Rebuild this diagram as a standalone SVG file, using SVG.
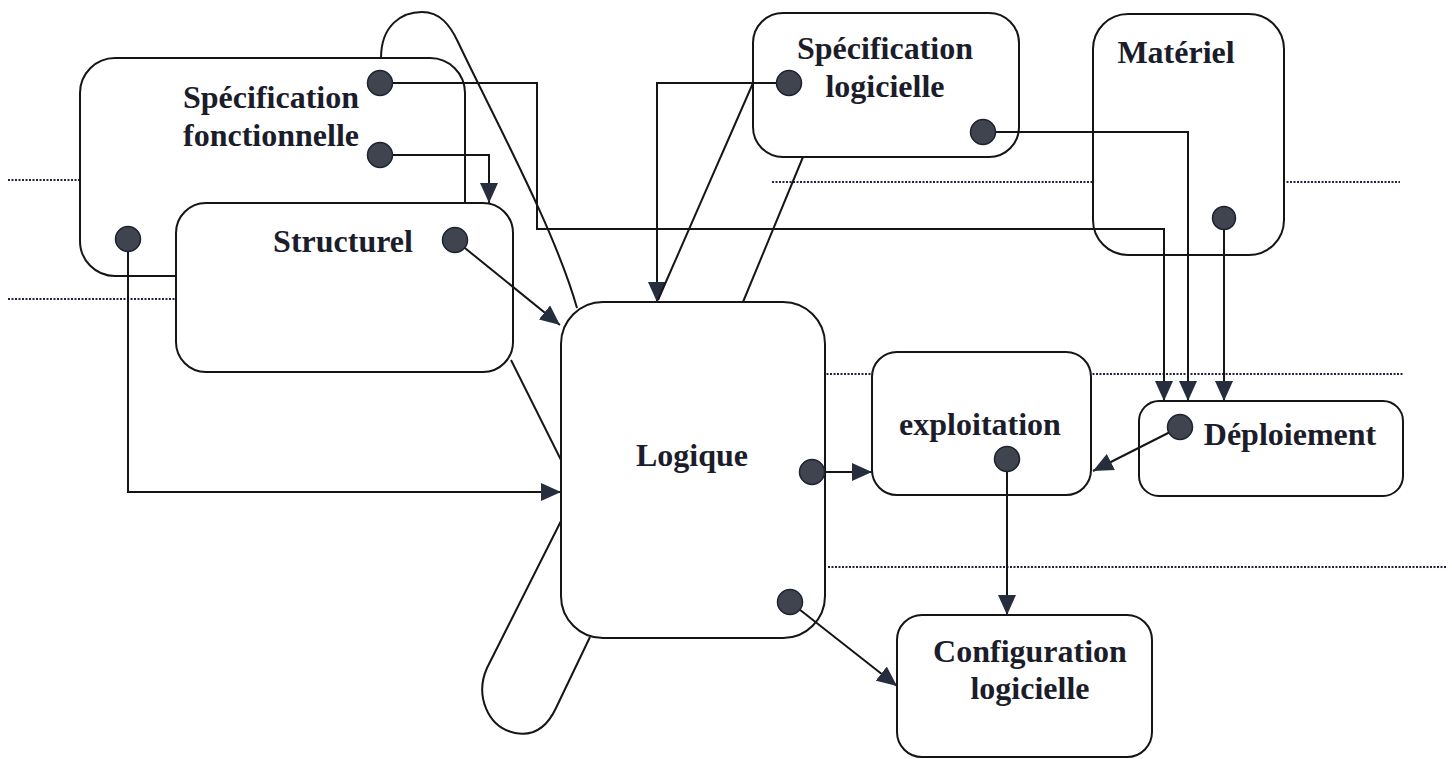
<svg xmlns="http://www.w3.org/2000/svg" width="1452" height="759" viewBox="0 0 1452 759">
  <style>
    .box { fill: #ffffff; stroke: #151515; stroke-width: 2; }
    .lbl { font-family: "Liberation Serif", "Times New Roman", serif; font-weight: bold; font-size: 32px; fill: #1b1d2b; text-anchor: middle; }
    .wire { fill: none; stroke: #151515; stroke-width: 2; }
    .arrow { marker-end: url(#head); }
    .sep { fill: none; stroke: #1e2440; stroke-width: 2; stroke-dasharray: 2 1.5; }
    .port { fill: #40444f; stroke: #1d2230; stroke-width: 1.5; }
  </style>
  <defs>
    <marker id="head" viewBox="0 0 20 18" refX="20" refY="9" markerWidth="20" markerHeight="18" markerUnits="userSpaceOnUse" orient="auto">
      <path d="M0,0 L20,9 L0,18 Z" fill="#262d3d"/>
    </marker>
  </defs>

  <rect width="1452" height="759" fill="#ffffff"/>

  <!-- dotted level separators -->
  <g id="separators">
    <line class="sep" x1="8" y1="180" x2="442" y2="180"/>
    <line class="sep" x1="772" y1="182" x2="1400" y2="182"/>
    <line class="sep" x1="8" y1="299" x2="511" y2="299"/>
    <line class="sep" x1="704" y1="374" x2="1403" y2="374"/>
    <line class="sep" x1="828" y1="567" x2="1447" y2="567"/>
  </g>

  <!-- nodes -->
  <g id="specification-fonctionnelle">
    <rect class="box" x="80" y="58" width="385" height="218" rx="35"/>
    <text class="lbl" x="271" y="108">Spécification</text>
    <text class="lbl" x="271" y="146">fonctionnelle</text>
  </g>
  <g id="structurel">
    <rect class="box" x="176" y="203" width="337" height="169" rx="30"/>
    <text class="lbl" x="343" y="252">Structurel</text>
  </g>
  <g id="specification-logicielle">
    <rect class="box" x="753" y="13" width="266" height="144" rx="30"/>
    <text class="lbl" x="885" y="59">Spécification</text>
    <text class="lbl" x="885" y="97">logicielle</text>
  </g>
  <g id="materiel">
    <rect class="box" x="1093" y="14" width="191" height="241" rx="35"/>
    <text class="lbl" x="1176" y="63">Matériel</text>
  </g>
  <g id="logique">
    <rect class="box" x="561" y="302" width="264" height="336" rx="42"/>
    <text class="lbl" x="692" y="466">Logique</text>
  </g>
  <g id="exploitation">
    <rect class="box" x="872" y="352" width="219" height="143" rx="25"/>
    <text class="lbl" x="980" y="435">exploitation</text>
  </g>
  <g id="deploiement">
    <rect class="box" x="1139" y="401" width="264" height="95" rx="20"/>
    <text class="lbl" x="1290" y="445">Déploiement</text>
  </g>
  <g id="configuration-logicielle">
    <rect class="box" x="897" y="615" width="255" height="142" rx="25"/>
    <text class="lbl" x="1030" y="662">Configuration</text>
    <text class="lbl" x="1030" y="699">logicielle</text>
  </g>

  <!-- connectors -->
  <g id="connectors">
    <path class="wire arrow" d="M380,83 H537 V229 H1164 V401"/>
    <path class="wire arrow" d="M380,155 H489 V203"/>
    <path class="wire arrow" d="M455,240 L560,325"/>
    <path class="wire arrow" d="M128,239 V492 H561"/>
    <path class="wire arrow" d="M789,83 H657 V302"/>
    <path class="wire" d="M753,83 L658,300"/>
    <path class="wire" d="M803,157 L743,302"/>
    <path class="wire arrow" d="M983,132 H1188 V401"/>
    <path class="wire arrow" d="M1224,218 V401"/>
    <path class="wire arrow" d="M812,472 H872"/>
    <path class="wire arrow" d="M1180,427 L1093,471"/>
    <path class="wire arrow" d="M1007,459 V615"/>
    <path class="wire arrow" d="M790,602 L897,686"/>
    <path class="wire" d="M381,58 C381,25 402,12 422,12 C440,12 450,25 458,42 C495,120 555,230 577,308"/>
    <path class="wire" d="M511,360 L561,460"/>
    <path class="wire" d="M561,521 L487,668 C475,695 487,727 515,733 C535,737 548,725 556,708 L590,637"/>
  </g>

  <!-- connection ports -->
  <g id="ports">
    <circle class="port" cx="380" cy="83" r="12.5"/>
    <circle class="port" cx="380" cy="155" r="12.5"/>
    <circle class="port" cx="128" cy="239" r="12.5"/>
    <circle class="port" cx="455" cy="240" r="12.5"/>
    <circle class="port" cx="789" cy="83" r="12.5"/>
    <circle class="port" cx="983" cy="132" r="12.5"/>
    <circle class="port" cx="1224" cy="218" r="11.5"/>
    <circle class="port" cx="812" cy="472" r="12.5"/>
    <circle class="port" cx="790" cy="602" r="12.5"/>
    <circle class="port" cx="1007" cy="459" r="12.5"/>
    <circle class="port" cx="1180" cy="427" r="12.5"/>
  </g>
</svg>
